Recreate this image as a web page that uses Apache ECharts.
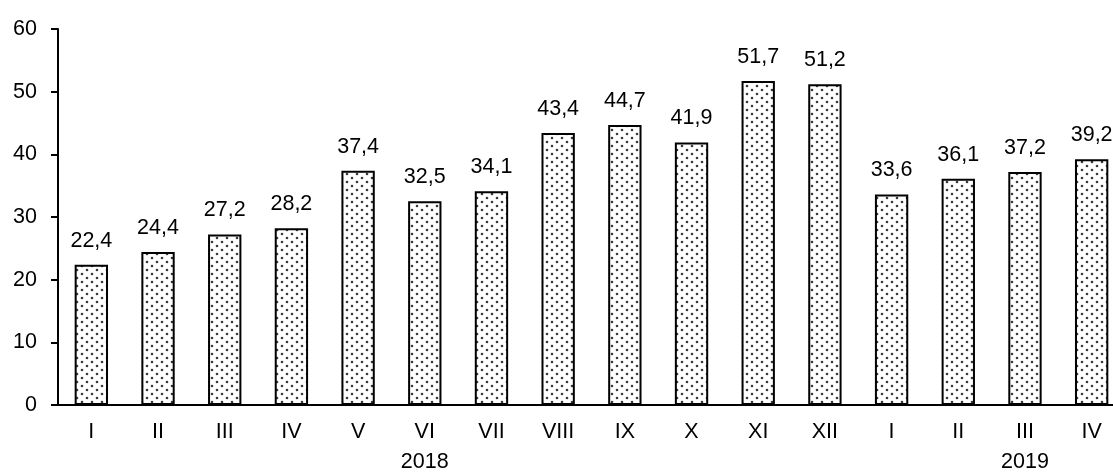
<!DOCTYPE html>
<html>
<head>
<meta charset="utf-8">
<script src="https://cdn.jsdelivr.net/npm/echarts@6/dist/echarts.min.js"></script>
<style>
  html, body { margin: 0; padding: 0; background: #fff; }
  #main { width: 1113px; height: 472px; }
</style>
</head>
<body>
<div id="main"></div>
<script>
// месяцы, год подписан под серединой
var months = ['I','II','III','IV','V','VI','VII','VIII','IX','X','XI','XII','I','II','III','IV'];
var years = ['', '', '', '', '', '2018', '', '', '', '', '', '', '', '', '2019', ''];
var values = [22.4, 24.4, 27.2, 28.2, 37.4, 32.5, 34.1, 43.4, 44.7, 41.9, 51.7, 51.2, 33.6, 36.1, 37.2, 39.2];
var yTicks = [0, 10, 20, 30, 40, 50, 60];

var categories = months.map(function (m, i) {
    return years[i] ? m + '\n' + years[i] : m;
});

// точечная штриховка столбиков
function dotPattern() {
    var c = document.createElement('canvas');
    c.width = 10; c.height = 8;
    var ctx = c.getContext('2d');
    ctx.fillStyle = '#fff';
    ctx.fillRect(0, 0, 10, 8);
    ctx.fillStyle = '#3a3a3a';
    [[2, 2], [7, 6]].forEach(function (p) {
        ctx.beginPath();
        ctx.arc(p[0], p[1], 1.3, 0, Math.PI * 2);
        ctx.fill();
    });
    return c;
}

var font = "'Liberation Sans', Arial, sans-serif";
var fs = 21.5;

var option = {
    animation: false,
    grid: { left: 58, width: 1067, top: 29, bottom: 67, outerBoundsMode: 'none', containLabel: false },
    xAxis: {
        type: 'category',
        data: categories,
        axisLine: { lineStyle: { color: '#000', width: 2 } },
        axisTick: { show: false },
        axisLabel: {
            color: '#000',
            fontSize: fs,
            fontFamily: font,
            margin: 12,
            lineHeight: 30,
            interval: 0
        }
    },
    yAxis: {
        type: 'value',
        min: yTicks[0],
        max: yTicks[yTicks.length - 1],
        interval: 10,
        axisLine: { show: true, lineStyle: { color: '#000', width: 2 } },
        axisTick: { show: true, length: 7, lineStyle: { color: '#000', width: 2 } },
        splitLine: { show: false },
        axisLabel: {
            color: '#000',
            fontSize: fs,
            fontFamily: font,
            margin: 21
        }
    },
    series: [{
        type: 'bar',
        data: values,
        barWidth: '50%',
        itemStyle: {
            color: { image: dotPattern(), repeat: 'repeat' },
            borderColor: '#000',
            borderWidth: 2
        },
        label: {
            show: true,
            position: 'top',
            distance: 13,
            color: '#000',
            fontSize: fs,
            fontFamily: font,
            formatter: function (p) { return String(p.value).replace('.', ','); }
        }
    }]
};

var myChart = echarts.init(document.getElementById('main'));
myChart.setOption(option);
</script>
</body>
</html>
